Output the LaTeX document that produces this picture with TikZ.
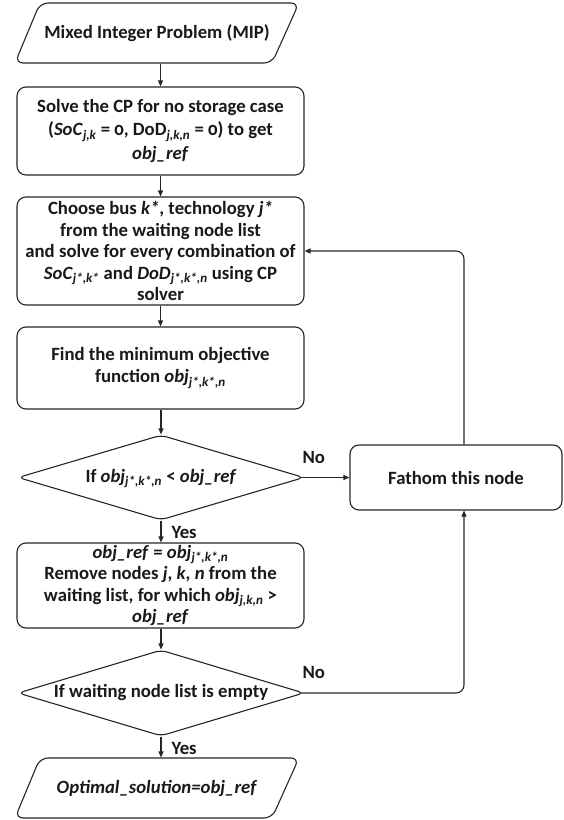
\documentclass[tikz,border=0pt]{standalone}
\usepackage{fontspec}
\setmainfont{Carlito}[Numbers=OldStyle]
\usetikzlibrary{shapes.geometric,arrows.meta,calc}
\newcommand{\sbs}[1]{\textsubscript{\itshape #1}}
\begin{document}
\begin{tikzpicture}[x=1bp,y=-1bp,line width=1.1bp,draw=black!85,
  txt/.style={font=\bfseries\fontsize{18.8}{21.7}\selectfont,text=black!90},
  box/.style={txt,draw,rounded corners=9bp,minimum width=287bp,align=center,inner sep=0pt},
  dec/.style={txt,draw,diamond,aspect=3.36,minimum width=286bp,minimum height=85bp,inner sep=0pt,
    text height=12bp,text depth=3bp,rounded corners=6bp},
  para/.style={txt,minimum width=240bp,minimum height=60bp,inner sep=0pt},
  arr/.style={-{Triangle[length=6bp,width=5bp]}},
  lbl/.style={txt,inner sep=0pt}]
\useasboundingbox (0,0) rectangle (564,820);
\fill[white] (0,0) rectangle (564,820);

\draw[rounded corners=8bp] (40,3) -- (299,3) -- (272,63) -- (15,63) -- cycle;
\node[para] (mip) at (157,33) {Mixed Integer Problem (MIP)};

\node[box,minimum height=88bp,font=\bfseries\fontsize{18.8}{23.5}\selectfont] (solve) at (160.5,131)
  {Solve the CP for no storage case\\(\textit{SoC}\sbs{j,k} = 0, DoD\sbs{j,k,n} = 0) to get\\\textit{obj\_ref}};

\node[box,minimum height=108bp] (choose) at (160.5,251)
  {Choose bus \textit{k*}, technology \textit{j*}\\from the waiting node list\\and solve for every combination of\\\textit{SoC}\sbs{j*,k*} and \textit{DoD}\sbs{j*,k*,n} using CP\\solver};

\node[box,minimum height=82bp] (find) at (160.5,368)
  {Find the minimum objective\\function \textit{obj}\sbs{j*,k*,n}};

\node[dec] (d1) at (161,477.5) {If \textit{obj}\sbs{j*,k*,n} < \textit{obj\_ref}};

\node[box,minimum width=212bp,minimum height=65bp] (fathom) at (456,477.5) {Fathom this node};

\node[box,minimum height=85bp] (upd) at (160.5,585.5)
  {\textit{obj\_ref} = \textit{obj}\sbs{j*,k*,n}\\Remove nodes \textit{j}, \textit{k}, \textit{n} from the\\waiting list, for which \textit{obj}\sbs{j,k,n} >\\\textit{obj\_ref}};

\node[dec,minimum height=86bp] (d2) at (161,693) {If waiting node list is empty};

\draw[rounded corners=8bp] (40,758) -- (299,758) -- (272,818) -- (15,818) -- cycle;
\node[para] (opt) at (157,788) {\textit{Optimal\_solution=obj\_ref}};

% connectors
\draw[arr] (mip.south -| solve.north) -- (solve.north);
\draw[arr] (solve) -- (choose);
\draw[arr] (choose) -- (find);
\draw[arr] (find.south -| d1.north) -- (d1.north);
\draw[arr] (d1.south) -- (d1.south |- upd.north);
\draw[arr] (upd.south -| d2.north) -- (d2.north);
\draw[arr] (d2.south) -- (d2.south |- opt.north);
\draw[arr] ([xshift=-3.4bp]d1.east) -- (fathom.west);
\draw[arr,rounded corners=8bp] ([xshift=8bp]fathom.north) |- (choose.east);
\draw[arr,rounded corners=8bp] ([xshift=-3.4bp]d2.east) -| ([xshift=8bp]fathom.south);

% labels
\node[lbl,anchor=west] at (302,457) {No};
\node[lbl,anchor=west] at (302,672) {No};
\node[lbl,anchor=west] at (171,532) {Yes};
\node[lbl,anchor=west] at (171,748) {Yes};
\end{tikzpicture}
\end{document}
